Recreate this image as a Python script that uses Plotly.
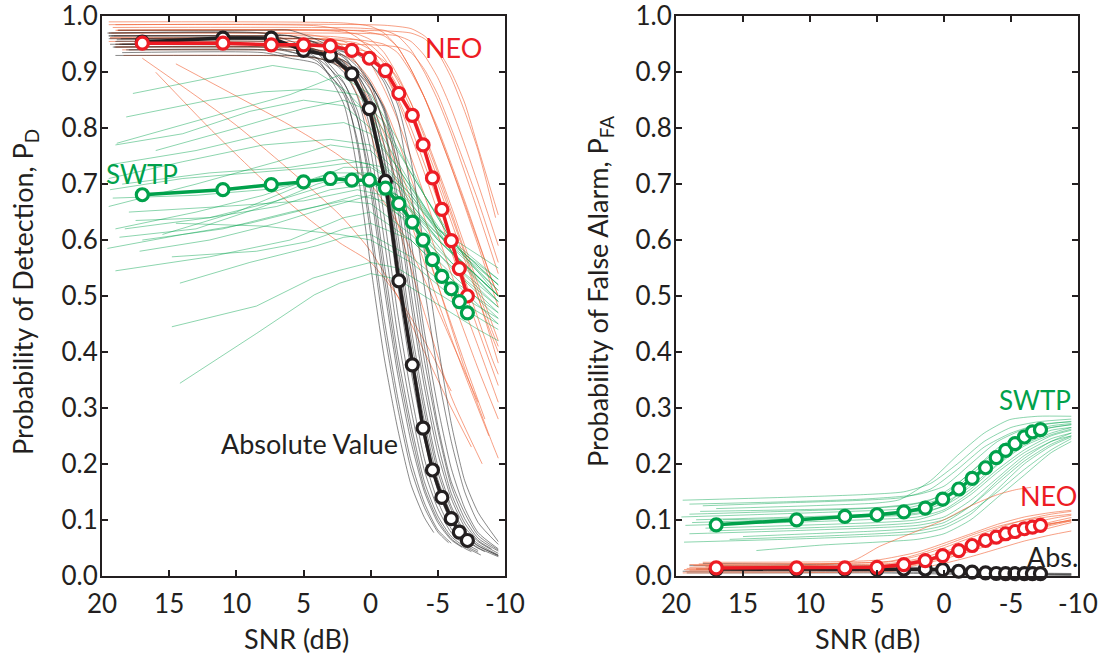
import plotly.graph_objects as go

# ---------------- data ----------------
SNR_MEAN = [17.0, 11.0, 7.4, 5.0, 3.0, 1.4, 0.1, -1.1, -2.1, -3.1, -3.9, -4.6, -5.3, -6.0, -6.6, -7.2]

PD_ABS_MEAN = [0.954, 0.961, 0.961, 0.939, 0.930, 0.897, 0.835, 0.705, 0.527, 0.377, 0.264, 0.189, 0.140, 0.102, 0.078, 0.063]
PD_NEO_MEAN = [0.952, 0.952, 0.949, 0.949, 0.947, 0.939, 0.925, 0.903, 0.862, 0.823, 0.770, 0.711, 0.655, 0.599, 0.549, 0.500]
PD_SWTP_MEAN = [0.681, 0.690, 0.699, 0.704, 0.710, 0.707, 0.707, 0.693, 0.665, 0.632, 0.600, 0.565, 0.535, 0.513, 0.490, 0.470]

PFA_ABS_MEAN = [0.012, 0.012, 0.012, 0.012, 0.012, 0.012, 0.011, 0.008, 0.0066, 0.005, 0.004, 0.0036, 0.0036, 0.0036, 0.0036, 0.0036]
PFA_NEO_MEAN = [0.014, 0.014, 0.014, 0.015, 0.020, 0.027, 0.036, 0.045, 0.054, 0.063, 0.069, 0.075, 0.079, 0.084, 0.087, 0.090]
PFA_SWTP_MEAN = [0.091, 0.100, 0.106, 0.109, 0.114, 0.121, 0.137, 0.155, 0.174, 0.193, 0.211, 0.224, 0.236, 0.248, 0.257, 0.261]

# individual recordings (x = SNR dB, y = probability)
PD_ABS_TRIALS = [
    [(19.5, .965), (8, .962), (6, .95), (4, .925), (2, .843), (1, .726), (0, .554), (-1, .391), (-2, .264), (-3, .163), (-4, .104), (-4.7, .077)],
    [(19, .95), (8, .95), (6, .937), (4, .92), (2, .86), (1, .78), (0, .63), (-1, .46), (-2, .32), (-3, .205), (-4, .13), (-5, .082), (-6, .058)],
    [(18.5, .935), (8, .935), (6, .925), (4, .915), (2, .866), (1, .817), (0, .704), (-1, .536), (-2, .379), (-3, .256), (-4, .157), (-5, .10), (-6, .066), (-7, .049), (-7.5, .043)],
    [(19.5, .97), (8, .97), (6, .965), (4, .952), (2, .917), (1, .878), (0, .796), (-1, .643), (-2, .47), (-3, .327), (-4, .209), (-5, .133), (-6, .084), (-7, .059), (-8, .045)],
    [(19, .955), (8, .955), (6, .95), (4, .94), (2, .915), (1, .884), (0, .834), (-1, .719), (-2, .548), (-3, .387), (-4, .261), (-5, .161), (-6, .103), (-7, .067), (-8, .05), (-9.5, .034)],
    [(18, .94), (8, .94), (6, .93), (4, .926), (2, .906), (1, .88), (0, .84), (-1, .747), (-2, .59), (-3, .425), (-4, .293), (-5, .185), (-6, .118), (-7, .075), (-8, .054), (-9.5, .036)],
    [(19.5, .965), (8, .965), (6, .965), (4, .953), (2, .937), (1, .915), (0, .879), (-1, .803), (-2, .657), (-3, .485), (-4, .337), (-5, .219), (-6, .138), (-7, .087), (-8, .061), (-9.5, .04)],
    [(18.5, .95), (8, .95), (6, .95), (4, .94), (2, .93), (1, .91), (0, .88), (-1, .83), (-2, .715), (-3, .545), (-4, .385), (-5, .26), (-6, .16), (-7, .102), (-8, .067), (-9.5, .044)],
    [(19, .93), (8, .93), (6, .93), (4, .925), (2, .912), (1, .899), (0, .876), (-1, .837), (-2, .754), (-3, .60), (-4, .436), (-5, .302), (-6, .192), (-7, .121), (-8, .077), (-9.5, .048)],
    [(19.5, .96), (8, .96), (6, .96), (4, .96), (2, .944), (1, .936), (0, .915), (-1, .882), (-2, .819), (-3, .687), (-4, .516), (-5, .362), (-6, .24), (-7, .15), (-8, .095), (-9.5, .056)],
    [(18.8, .975), (8, .975), (6, .975), (4, .958), (2, .929), (1, .895), (0, .831), (-1, .698), (-2, .523), (-3, .367), (-4, .243), (-5, .152), (-6, .096), (-7, .065), (-8, .049), (-8.5, .043)],
    [(19.2, .945), (8, .945), (6, .945), (4, .934), (2, .921), (1, .90), (0, .868), (-1, .806), (-2, .677), (-3, .507), (-4, .356), (-5, .236), (-6, .147), (-7, .094), (-8, .063), (-9, .048)],
    [(18.6, .96), (8, .96), (6, .949), (4, .936), (2, .882), (1, .819), (0, .687), (-1, .516), (-2, .362), (-3, .24), (-4, .15), (-5, .095), (-6, .064), (-6.8, .051)],
    [(19.4, .95), (8, .95), (6, .95), (4, .95), (2, .936), (1, .931), (0, .914), (-1, .888), (-2, .843), (-3, .743), (-4, .58), (-5, .415), (-6, .272), (-7, .17), (-8, .113), (-9.5, .061)],
    [(18.9, .958), (8, .958), (6, .95), (4, .938), (2, .90), (1, .857), (0, .761), (-1, .602), (-2, .433), (-3, .298), (-4, .188), (-5, .12), (-6, .077), (-7, .055), (-8, .042)],
    [(19.3, .965), (8, .965), (6, .965), (4, .951), (2, .926), (1, .898), (0, .849), (-1, .74), (-2, .571), (-3, .406), (-4, .276), (-5, .172), (-6, .11), (-7, .071), (-8, .053), (-9.5, .036)],
    [(18.2, .94), (8, .94), (6, .94), (4, .932), (2, .921), (1, .904), (0, .878), (-1, .834), (-2, .735), (-3, .574), (-4, .41), (-5, .269), (-6, .168), (-7, .112), (-8, .072), (-9.5, .046)],
    [(19.6, .97), (8, .97), (6, .956), (4, .935), (2, .868), (1, .771), (0, .61), (-1, .439), (-2, .302), (-3, .191), (-4, .122), (-5, .078), (-5.8, .059)],
    [(18.7, .95), (8, .95), (6, .95), (4, .937), (2, .918), (1, .895), (0, .855), (-1, .77), (-2, .613), (-3, .445), (-4, .308), (-5, .196), (-6, .124), (-7, .079), (-8, .057), (-9.5, .037)],
    [(19.1, .945), (8, .945), (6, .936), (4, .925), (2, .88), (1, .832), (0, .724), (-1, .559), (-2, .398), (-3, .271), (-4, .168), (-5, .107), (-6, .07), (-7, .052), (-8.2, .037)],
]

PD_NEO_TRIALS = [
    [(19, .95), (5, .948), (4, .94), (3, .93), (2, .905), (1, .86), (0, .79), (-2, .63), (-4, .47), (-6, .32), (-8.3, .20)],
    [(19.5, .97), (5, .968), (3, .96), (2, .945), (1, .915), (0, .87), (-1, .81), (-3, .67), (-5, .52), (-7, .37), (-9, .24), (-9.5, .21)],
    [(18.5, .94), (4, .938), (2, .93), (1, .915), (0, .885), (-1, .84), (-2, .78), (-4, .64), (-6, .50), (-8, .37), (-9.5, .28)],
    [(19, .985), (4, .983), (2, .975), (1, .962), (0, .94), (-1, .90), (-2, .85), (-4, .72), (-6, .58), (-8, .44), (-9.5, .34)],
    [(19.5, .955), (3, .953), (1, .945), (0, .93), (-1, .90), (-2, .855), (-3, .80), (-5, .67), (-7, .53), (-9, .39), (-9.5, .36)],
    [(18.8, .975), (3, .974), (1, .968), (0, .958), (-1, .935), (-2, .895), (-3, .845), (-5, .72), (-7, .58), (-9, .44), (-9.5, .41)],
    [(19, .945), (2, .944), (0, .935), (-1, .92), (-2, .89), (-3, .845), (-4, .79), (-6, .66), (-8, .52), (-9.5, .42)],
    [(19.5, .99), (2, .988), (0, .982), (-1, .97), (-2, .945), (-3, .905), (-4, .855), (-6, .73), (-8, .59), (-9.5, .48)],
    [(18.6, .96), (1, .958), (-1, .95), (-2, .935), (-3, .90), (-4, .855), (-5, .80), (-7, .67), (-9, .53), (-9.5, .50)],
    [(19.2, .98), (1, .979), (-1, .975), (-2, .965), (-3, .94), (-4, .90), (-5, .85), (-6, .79), (-8, .65), (-9.5, .54)],
    [(19.3, .97), (0, .969), (-2, .965), (-3, .955), (-4, .93), (-5, .89), (-6, .835), (-7, .77), (-8, .70), (-9.5, .59)],
    [(19, .975), (-1, .974), (-3, .97), (-4, .96), (-5, .935), (-6, .89), (-7, .83), (-8, .76), (-9.3, .64)],
    [(18.4, .93), (5, .928), (3, .92), (2, .905), (1, .875), (0, .83), (-1, .77), (-3, .63), (-5, .49), (-7, .36), (-8.8, .25)],
    [(19.4, .96), (3, .958), (1, .952), (0, .94), (-1, .915), (-2, .875), (-3, .825), (-5, .70), (-7, .565), (-9, .43), (-9.5, .40)],
    [(19.1, .965), (3, .964), (1, .958), (0, .948), (-1, .925), (-2, .885), (-3, .835), (-5, .71), (-7, .575), (-9, .42), (-9.5, .38)],
    [(18.7, .95), (0, .949), (-2, .945), (-3, .935), (-4, .905), (-5, .86), (-6, .80), (-8, .67), (-9.5, .56)],
    [(19.4, .962), (4, .96), (2, .955), (1, .94), (0, .915), (-1, .87), (-2, .815), (-4, .68), (-6, .54), (-8, .41), (-9.5, .31)],
    [(18.9, .975), (1, .974), (-1, .965), (-2, .945), (-3, .905), (-4, .855), (-5, .795), (-7, .665), (-9, .53), (-9.5, .50)],
    [(19, .945), (5, .943), (3, .935), (2, .92), (1, .89), (0, .845), (-1, .79), (-3, .655), (-5, .52), (-7, .38), (-8.5, .28)],
    [(19.5, .985), (-1, .984), (-3, .978), (-4, .965), (-5, .94), (-6, .90), (-7, .845), (-8, .765), (-9.5, .645)],
    [(17, .925), (10, .805), (2.3, .645), (0, .58), (-2, .50), (-4, .40), (-6, .30), (-7.5, .23)],
    [(14.5, .915), (6, .805), (2.3, .75), (0, .70), (-2, .63), (-4, .53), (-6, .42), (-8, .31)],
    [(16, .90), (12, .80), (8, .707), (5, .645), (2.3, .595), (0, .56), (-2, .50), (-4, .42), (-6, .33)],
]

PD_SWTP_TRIALS = [
    [(14.2, .344), (8.5, .433), (4.2, .502), (2.3, .523), (0, .54), (-2, .53), (-4, .50), (-6, .47), (-8, .44), (-9.5, .42)],
    [(14.8, .445), (8.5, .482), (4.3, .532), (2.3, .546), (0, .56), (-2, .55), (-4, .52), (-6, .49), (-9.5, .44)],
    [(14.2, .523), (9, .56), (4, .59), (2, .605), (0, .61), (-3, .57), (-6, .51), (-9.5, .46)],
    [(14.8, .57), (8.5, .58), (4.7, .597), (2, .62), (0, .63), (-3, .60), (-6, .53), (-9.5, .47)],
    [(17.7, .862), (12, .89), (7.3, .912), (4, .90), (2, .87), (0, .82), (-2, .74), (-4, .66), (-6, .58), (-9.5, .50)],
    [(18.9, .773), (12, .82), (6, .86), (2.3, .895), (0, .86), (-2, .78), (-4, .68), (-6, .60), (-9.5, .50)],
    [(19.5, .66), (13, .70), (7, .74), (3, .77), (0, .76), (-2, .71), (-4, .65), (-6, .58), (-9.5, .49)],
    [(19, .62), (13, .65), (8, .68), (3, .72), (0, .72), (-2, .68), (-4, .62), (-6, .56), (-9.5, .48)],
    [(18.5, .70), (12, .72), (6, .73), (2, .745), (0, .735), (-2, .70), (-5, .60), (-9.5, .50)],
    [(19.3, .735), (13, .76), (6, .80), (2, .81), (0, .79), (-2, .73), (-4, .66), (-6, .59), (-9.5, .52)],
    [(18, .65), (11, .66), (5, .67), (1, .69), (-1, .68), (-3, .63), (-6, .55), (-9.5, .47)],
    [(19.6, .585), (14, .61), (9, .63), (4, .66), (1, .68), (-1, .67), (-4, .60), (-7, .53), (-9.5, .48)],
    [(17, .60), (11, .62), (6, .65), (2, .67), (0, .665), (-3, .61), (-6, .54), (-9.5, .46)],
    [(19, .545), (12, .57), (6, .60), (2, .64), (0, .65), (-3, .60), (-6, .53), (-9.5, .45)],
    [(16, .76), (10, .80), (5, .835), (2, .85), (0, .83), (-2, .76), (-4, .68), (-7, .57), (-9.5, .51)],
    [(18.2, .82), (12, .85), (8, .865), (4, .87), (1, .86), (-1, .81), (-3, .72), (-6, .60), (-9.5, .53)],
    [(19.4, .69), (14, .71), (9, .72), (4, .73), (1, .74), (-1, .73), (-3, .68), (-6, .58), (-9.5, .50)],
    [(17.5, .635), (12, .64), (7, .66), (3, .69), (0, .70), (-2, .68), (-5, .61), (-9.5, .53)],
    [(15.5, .61), (10, .65), (5, .70), (2, .73), (0, .73), (-2, .70), (-5, .62), (-9.5, .55)],
    [(14.5, .63), (8, .625), (2.3, .61), (0, .60), (-3, .56), (-6, .50), (-9.5, .45)],
    [(19, .77), (14, .79), (9, .83), (5, .85), (2, .84), (0, .80), (-2, .73), (-5, .62), (-9.5, .52)],
    [(18.7, .605), (13, .62), (8, .66), (4, .70), (1, .72), (-1, .70), (-4, .63), (-7, .55), (-9.5, .49)],
    [(19.2, .675), (13, .68), (8, .69), (3, .71), (0, .705), (-2, .68), (-5, .60), (-9.5, .50)],
    [(18.3, .62), (12, .64), (7, .67), (3, .70), (0, .71), (-2, .69), (-5, .61), (-9.5, .51)],
    [(19.5, .71), (14, .74), (8, .77), (3, .78), (0, .77), (-2, .72), (-5, .62), (-9.5, .52)],
    [(17.2, .58), (12, .60), (7, .63), (3, .66), (0, .68), (-3, .63), (-6, .56), (-9.5, .49)],
]

PFA_SWTP_TRIALS = [
    [(19.5, .135), (12, .14), (6, .145), (3, .15), (1, .165), (-1, .20), (-3, .24), (-5, .265), (-7, .275), (-9.5, .28)],
    [(17, .12), (10, .125), (5, .13), (3.3, .136), (1, .17), (-1, .215), (-3, .255), (-4.9, .279), (-7, .285), (-9.5, .285)],
    [(19, .11), (12, .115), (6, .12), (3, .125), (1, .135), (-1, .165), (-3, .205), (-5, .24), (-7, .26), (-9.5, .27)],
    [(18.5, .10), (11, .105), (5, .11), (2, .115), (0, .13), (-2, .16), (-4, .20), (-6, .235), (-8, .255), (-9.5, .265)],
    [(19.3, .09), (12, .095), (6, .10), (2, .105), (0, .118), (-2, .15), (-4, .19), (-6, .225), (-8, .25), (-9.5, .26)],
    [(17.5, .08), (11, .085), (5, .09), (2, .095), (0, .105), (-2, .135), (-4, .175), (-6, .215), (-8, .24), (-9.5, .255)],
    [(19, .075), (12, .08), (6, .085), (2, .09), (0, .10), (-2, .125), (-4, .165), (-6, .205), (-8, .235), (-9.5, .25)],
    [(16, .065), (10, .07), (5, .075), (2, .08), (0, .09), (-2, .115), (-4, .15), (-6, .19), (-8, .225), (-9.5, .245)],
    [(14, .045), (9, .055), (5, .06), (2, .065), (0, .075), (-2, .10), (-4, .14), (-6, .18), (-8, .22), (-9.5, .24)],
    [(18, .125), (12, .13), (6, .135), (3, .14), (1, .155), (-1, .19), (-3, .23), (-5, .255), (-7, .27), (-9.5, .275)],
    [(19.6, .105), (13, .11), (7, .115), (3, .12), (0, .14), (-2, .18), (-4, .22), (-6, .25), (-8, .265), (-9.5, .27)],
    [(18.8, .095), (12, .10), (6, .105), (2, .11), (0, .125), (-2, .165), (-4, .21), (-6, .24), (-8, .26), (-9.5, .265)],
    [(17.8, .085), (11, .09), (5, .095), (2, .10), (0, .115), (-2, .145), (-4, .185), (-6, .22), (-8, .245), (-9.5, .255)],
    [(15, .07), (10, .075), (5, .08), (2, .085), (0, .095), (-2, .125), (-4, .17), (-6, .21), (-8, .24), (-9.5, .25)],
    [(19, .128), (12, .132), (6, .137), (2, .145), (0, .16), (-2, .20), (-4, .24), (-6, .262), (-8, .272), (-9.5, .276)],
    [(18.2, .115), (11, .118), (5, .122), (2, .13), (0, .145), (-2, .185), (-4, .228), (-6, .255), (-8, .268), (-9.5, .272)],
    [(16.5, .10), (10, .103), (5, .107), (2, .112), (0, .125), (-2, .155), (-4, .198), (-6, .232), (-8, .252), (-9.5, .262)],
    [(19.4, .06), (12, .065), (6, .07), (2, .075), (0, .085), (-2, .11), (-4, .155), (-6, .20), (-8, .232), (-9.5, .248)],
]

PFA_NEO_TRIALS = [
    [(19, .02), (8, .022), (4, .025), (2, .035), (0, .05), (-2, .068), (-4, .085), (-6, .10), (-8, .11), (-9.5, .115)],
    [(18.5, .012), (8, .013), (4, .016), (2, .024), (0, .037), (-2, .052), (-4, .068), (-6, .083), (-8, .096), (-9.5, .104)],
    [(19.3, .008), (8, .009), (4, .012), (2, .019), (0, .03), (-2, .044), (-4, .059), (-6, .073), (-8, .086), (-9.5, .095)],
    [(17.8, .016), (8, .017), (4, .02), (1, .032), (-1, .045), (-3, .06), (-5, .075), (-7, .088), (-9.5, .10)],
    [(19.5, .005), (8, .006), (4, .008), (2, .013), (0, .022), (-2, .034), (-4, .048), (-6, .062), (-8, .073), (-9.5, .08)],
    [(18, .024), (8, .025), (5, .028), (2, .042), (0, .058), (-2, .075), (-4, .092), (-6, .105), (-8, .113), (-9.5, .117)],
    [(19, .01), (8, .011), (4, .014), (2, .021), (0, .033), (-2, .048), (-4, .064), (-6, .078), (-8, .09), (-9.5, .098)],
    [(18.7, .018), (8, .019), (4, .022), (2, .03), (0, .043), (-2, .058), (-4, .074), (-6, .09), (-8, .102), (-9.5, .108)],
    [(19, .015), (7, .025), (4.8, .0525), (2, .08), (0, .10), (-2, .125), (-4, .145), (-5.4, .154), (-6.5, .158)],
    [(19.2, .013), (8, .014), (3, .02), (1, .03), (-1, .045), (-3, .062), (-5, .078), (-7, .09), (-9.5, .098)],
    [(18.3, .021), (8, .022), (4, .026), (2, .038), (0, .054), (-2, .072), (-4, .088), (-6, .099), (-8, .106), (-9.5, .11)],
    [(19.4, .011), (8, .012), (4, .015), (2, .022), (0, .035), (-2, .05), (-4, .066), (-6, .08), (-8, .092), (-9.5, .1)],
]

PFA_ABS_TRIALS = [
    [(19, .018), (10, .017), (5, .015), (2, .013), (0, .01), (-3, .006), (-6, .004), (-9.5, .003)],
    [(18.5, .012), (10, .012), (5, .011), (2, .009), (0, .007), (-3, .004), (-6, .003), (-9.5, .002)],
    [(19.5, .008), (10, .008), (5, .007), (2, .006), (0, .005), (-3, .003), (-6, .002), (-9.5, .001)],
    [(18, .022), (10, .02), (5, .018), (2, .015), (0, .012), (-3, .008), (-6, .005), (-9.5, .004)],
    [(19.2, .005), (10, .005), (5, .005), (2, .004), (0, .003), (-3, .002), (-9.5, .001)],
]

X_TICKS = [20, 15, 10, 5, 0, -5, -10]
X_TICK_TEXT = ["20", "15", "10", "5", "0", "-5", "-10"]
Y_TICKS = [0.0, 0.1, 0.2, 0.3, 0.4, 0.5, 0.6, 0.7, 0.8, 0.9, 1.0]
Y_TICK_TEXT = ["0.0", "0.1", "0.2", "0.3", "0.4", "0.5", "0.6", "0.7", "0.8", "0.9", "1.0"]

# ---------------- style ----------------
INK = "#231F20"
RED = "#ED1C24"
GREEN = "#00A14B"
RED_THIN = "rgba(242,96,52,0.6)"
GREEN_THIN = "rgba(0,161,75,0.45)"
BLACK_THIN = "rgba(40,40,40,0.55)"
FONT = "Lato"

fig = go.Figure()


def add_trials(trials, color, xa, ya, shape="spline"):
    for tr in trials:
        fig.add_trace(go.Scatter(
            x=[p[0] for p in tr], y=[p[1] for p in tr], mode="lines",
            line=dict(color=color, width=1.0, shape=shape, smoothing=0.6),
            xaxis=xa, yaxis=ya, hoverinfo="skip", showlegend=False))


def add_mean(yvals, color, xa, ya):
    fig.add_trace(go.Scatter(
        x=SNR_MEAN, y=yvals, mode="lines+markers",
        line=dict(color=color, width=3.5),
        marker=dict(symbol="circle", size=12, color="white", line=dict(color=color, width=3.2)),
        xaxis=xa, yaxis=ya, cliponaxis=False, showlegend=False))


# left panel: probability of detection
add_trials(PD_NEO_TRIALS, RED_THIN, "x", "y")
add_trials(PD_ABS_TRIALS, BLACK_THIN, "x", "y")
add_trials(PD_SWTP_TRIALS, GREEN_THIN, "x", "y", shape="linear")
add_mean(PD_ABS_MEAN, INK, "x", "y")
add_mean(PD_NEO_MEAN, RED, "x", "y")
add_mean(PD_SWTP_MEAN, GREEN, "x", "y")

# right panel: probability of false alarm
add_trials(PFA_SWTP_TRIALS, GREEN_THIN, "x2", "y2")
add_trials(PFA_ABS_TRIALS, BLACK_THIN, "x2", "y2")
add_trials(PFA_NEO_TRIALS, RED_THIN, "x2", "y2")
add_mean(PFA_ABS_MEAN, INK, "x2", "y2")
add_mean(PFA_NEO_MEAN, RED, "x2", "y2")
add_mean(PFA_SWTP_MEAN, GREEN, "x2", "y2")

axis_common = dict(
    showline=True, linewidth=2, linecolor=INK, mirror="ticks",
    ticks="inside", ticklen=6, tickwidth=2, tickcolor=INK,
    showgrid=False, zeroline=False, ticklabeloverflow="allow",
    tickfont=dict(family=FONT, size=26, color=INK),
)

YD = [79 / 655, 639 / 655]
fig.update_layout(
    width=1112, height=655,
    margin=dict(l=0, r=0, t=0, b=0),
    paper_bgcolor="white", plot_bgcolor="white",
    font=dict(family=FONT, color=INK),
    xaxis=dict(domain=[102 / 1112, 505 / 1112], range=[20, -10], tickvals=X_TICKS, ticktext=X_TICK_TEXT,
               anchor="y", automargin=False, ticklabelstandoff=4, **axis_common),
    yaxis=dict(domain=YD, range=[-0.0005, 1.0005], tickvals=Y_TICKS, ticktext=Y_TICK_TEXT,
               anchor="x", automargin=False, ticklabelstandoff=-3, **axis_common),
    xaxis2=dict(domain=[676 / 1112, 1078 / 1112], range=[20, -10], tickvals=X_TICKS, ticktext=X_TICK_TEXT,
                anchor="y2", automargin=False, ticklabelstandoff=4, **axis_common),
    yaxis2=dict(domain=YD, range=[-0.0005, 1.0005], tickvals=Y_TICKS, ticktext=Y_TICK_TEXT,
                anchor="x2", automargin=False, ticklabelstandoff=-3, **axis_common),
)


def label(text, x, y, xref, yref, size, color, angle=0):
    return dict(text=text, x=x, y=y, xref=xref, yref=yref, textangle=angle, showarrow=False,
                xanchor="center", yanchor="middle", font=dict(family=FONT, size=size, color=color))


ann = [
    label("Probability of Detection, P<sub>D</sub>", 24 / 1112, 1 - 292 / 655, "paper", "paper", 27, INK, -90),
    label("Probability of False Alarm, P<sub>FA</sub>", 599 / 1112, 1 - 292 / 655, "paper", "paper", 27, INK, -90),
    label("SNR (dB)", 296 / 1112, 1 - 638 / 655, "paper", "paper", 27, INK),
    label("SNR (dB)", 867 / 1112, 1 - 638 / 655, "paper", "paper", 27, INK),
    label("NEO", -6.2, 0.945, "x", "y", 27, RED),
    label("SWTP", 17.0, 0.718, "x", "y", 26, GREEN),
    label("Absolute Value", 4.56, 0.237, "x", "y", 27, INK),
    label("SWTP", -6.77, 0.314, "x2", "y2", 26, GREEN),
    label("NEO", -7.81, 0.143, "x2", "y2", 27, RED),
    label("Abs.", -8.06, 0.0345, "x2", "y2", 27, INK),
]
fig.update_layout(annotations=ann)

fig.write_html("out.html")
